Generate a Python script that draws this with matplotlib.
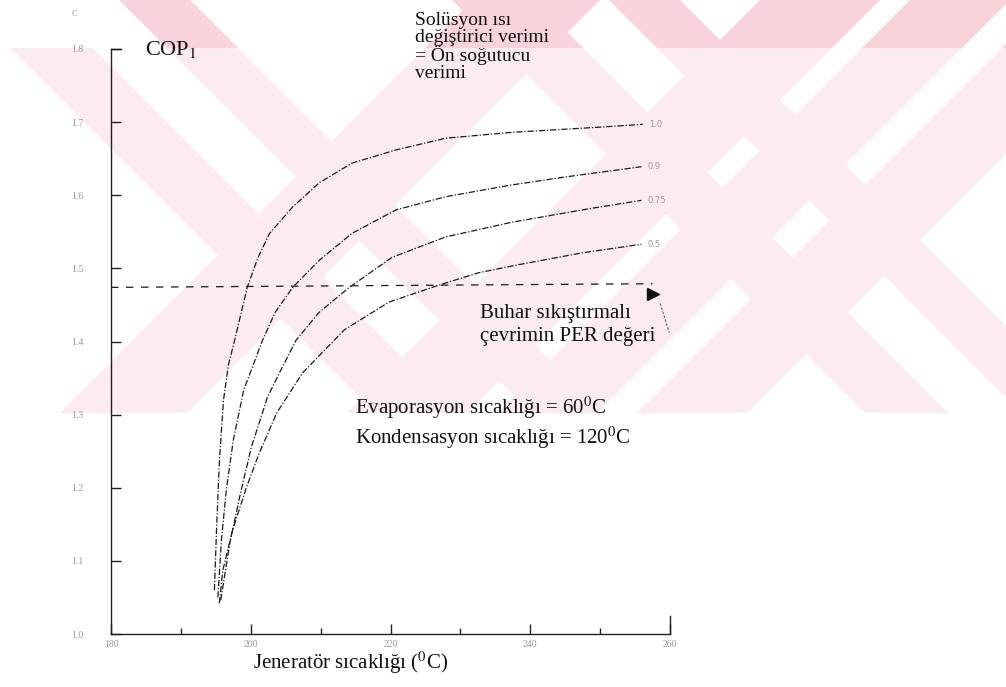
import matplotlib
matplotlib.use("Agg")
import matplotlib.pyplot as plt
from matplotlib.patches import Polygon, Rectangle

plt.rcParams["font.family"] = ["Liberation Serif", "DejaVu Serif"]
plt.rcParams["mathtext.fontset"] = "stix"

# generator temperature (C) and COP_1, one list per curve
t_gen_100 = [194.8, 195.1, 195.5, 196.1, 196.8, 197.7, 199.5, 201.0, 202.7, 206.0,
             209.8, 214.5, 220.8, 227.9, 237.3, 249.7, 256.1]
cop_100 = [1.060, 1.142, 1.234, 1.320, 1.368, 1.402, 1.474, 1.514, 1.548, 1.584,
           1.617, 1.644, 1.662, 1.678, 1.686, 1.693, 1.697]

t_gen_090 = [195.3, 195.8, 196.5, 197.5, 199.0, 201.7, 203.5, 206.0, 209.8, 214.5,
             220.8, 227.9, 237.3, 245.0, 255.9]
cop_090 = [1.050, 1.128, 1.197, 1.265, 1.334, 1.402, 1.440, 1.474, 1.511, 1.548,
           1.580, 1.598, 1.614, 1.625, 1.639]

t_gen_075 = [195.7, 197.0, 198.4, 200.1, 202.4, 204.1, 206.5, 209.8, 214.1, 220.2,
             227.9, 237.3, 248.7, 255.9]
cop_075 = [1.046, 1.124, 1.187, 1.256, 1.324, 1.357, 1.402, 1.440, 1.474, 1.515,
           1.543, 1.563, 1.582, 1.593]

t_gen_050 = [195.5, 196.0, 197.4, 199.4, 201.2, 203.7, 207.4, 213.4, 219.8, 226.9,
             232.6, 238.3, 247.3, 255.9]
cop_050 = [1.042, 1.087, 1.142, 1.201, 1.247, 1.302, 1.357, 1.416, 1.454, 1.477,
           1.494, 1.505, 1.521, 1.533]

curve_labels = ["1.0", "0.9", "0.75", "0.5"]

# vapour compression PER line
per_t = [180, 257.5]
per_val = [1.474, 1.479]
per_tip = (257.6, 1.465)
per_leader_t = [258.6, 259.9]
per_leader_val = [1.452, 1.412]

x_major = [180, 200, 220, 240, 260]
x_minor = [190, 210, 230, 250]
y_major = [1.0, 1.1, 1.2, 1.3, 1.4, 1.5, 1.6, 1.7, 1.8]

W, H = 1006, 687


def fx(px):
    return px / W


def fy(py):
    return 1 - py / H


fig = plt.figure(figsize=(W / 100, H / 100), dpi=100)
fig.patch.set_facecolor("white")

# pink watermark behind the chart (crossed X marks from the scan)
down_strips = [(-38, 45), (119, 190), (452, 535), (609, 680)]
up_strips = [(473, 600), (760, 880), (910, 1010), (1050, 1160)]


def strip(a, b, y0, y1, up, color, clip):
    if up:
        pts = [(a - y0, y0), (b - y0, y0), (b - y1, y1), (a - y1, y1)]
    else:
        pts = [(a + y0, y0), (b + y0, y0), (b + y1, y1), (a + y1, y1)]
    p = Polygon([(fx(x), fy(y)) for x, y in pts], closed=True, transform=fig.transFigure,
                facecolor=color, edgecolor="none", zorder=-5)
    p.set_clip_path(clip)
    fig.patches.append(p)


body = Rectangle((0, fy(413)), 1, fy(48) - fy(413), transform=fig.transFigure)
head = Rectangle((0, fy(48)), 1, 1 - fy(48), transform=fig.transFigure)
for a, b in down_strips:
    strip(a, b, 0, 413, False, "#fdecef", body)
    if a > 0:
        strip(a, b, 0, 413, False, "#f8d3d9", head)
for a, b in up_strips:
    strip(a, b, 0, 413, True, "#fdecef", body)
    strip(a, b, 0, 413, True, "#f8d3d9", head)

ax = fig.add_axes([fx(111), fy(634), fx(670) - fx(111), fy(49) - fy(634)])
ax.set_facecolor("none")
ax.set_zorder(2)
ax.set_xlim(180, 260)
ax.set_ylim(1.0, 1.8)
for s in ["top", "right"]:
    ax.spines[s].set_visible(False)
for s in ["left", "bottom"]:
    ax.spines[s].set_linewidth(1.0)
    ax.spines[s].set_color("#222222")

ax.set_xticks(x_major)
ax.set_xticks(x_minor, minor=True)
ax.set_yticks(y_major)
ax.set_xticklabels([str(v) for v in x_major])
ax.set_yticklabels(["%.1f" % v for v in y_major])
ax.tick_params(axis="both", which="major", direction="in", length=7, width=1.0,
               labelsize=7, labelcolor="#9a9a9a", color="#222222")
ax.tick_params(axis="both", which="minor", direction="in", length=4, width=1.0,
               color="#222222")
ax.tick_params(axis="y", pad=20)
ax.tick_params(axis="x", pad=4)

# end ticks of the frame
ax.plot([260, 260], [1.0, 1.025], color="#222222", lw=1.0, clip_on=False)
ax.plot([180, 181.5], [1.8, 1.8], color="#222222", lw=1.0, clip_on=False)

dash = (0, (5, 1.5, 1, 1.5))
series = [(t_gen_100, cop_100), (t_gen_090, cop_090), (t_gen_075, cop_075), (t_gen_050, cop_050)]
for (t, c), lab in zip(series, curve_labels):
    ax.plot(t, c, color="#1a1a1a", lw=0.9, linestyle=dash)
    ax.text(t[-1] + 0.9, c[-1], lab, fontsize=6, color="#9a9a9a", va="center",
            family="DejaVu Sans")

ax.plot(per_t, per_val, color="#1a1a1a", lw=0.9, linestyle=(0, (6, 6)), clip_on=False)
ax.plot([per_tip[0]], [per_tip[1]], marker=">", markersize=9, color="#111111",
        clip_on=False)
ax.plot(per_leader_t, per_leader_val, color="#333333", lw=0.6, linestyle=(0, (3, 2)),
        clip_on=False)

txt = dict(color="#111111", fontsize=15)
fig.text(fx(145), fy(49), "COP$_1$", va="center", ha="left", color="#111111", fontsize=16)
fig.text(fx(415), fy(47), "Solüsyon ısı\ndeğiştirici verimi\n= Ön soğutucu\nverimi",
         va="center", ha="left", linespacing=1.0, color="#111111", fontsize=14)
fig.text(fx(480), fy(325), "Buhar sıkıştırmalı\nçevrimin PER değeri",
         va="center", ha="left", linespacing=1.3, **txt)
fig.text(fx(355), fy(423), "Evaporasyon sıcaklığı = 60$^0$C\nKondensasyon sıcaklığı = 120$^0$C",
         va="center", ha="left", linespacing=1.2, **txt)
fig.text(fx(351), fy(663), "Jeneratör sıcaklığı ($^0$C)", va="center", ha="center", **txt)
fig.text(fx(74), fy(14), "C", va="center", ha="center", fontsize=6, color="#9a9a9a")

fig.savefig("out.png", dpi=100)
